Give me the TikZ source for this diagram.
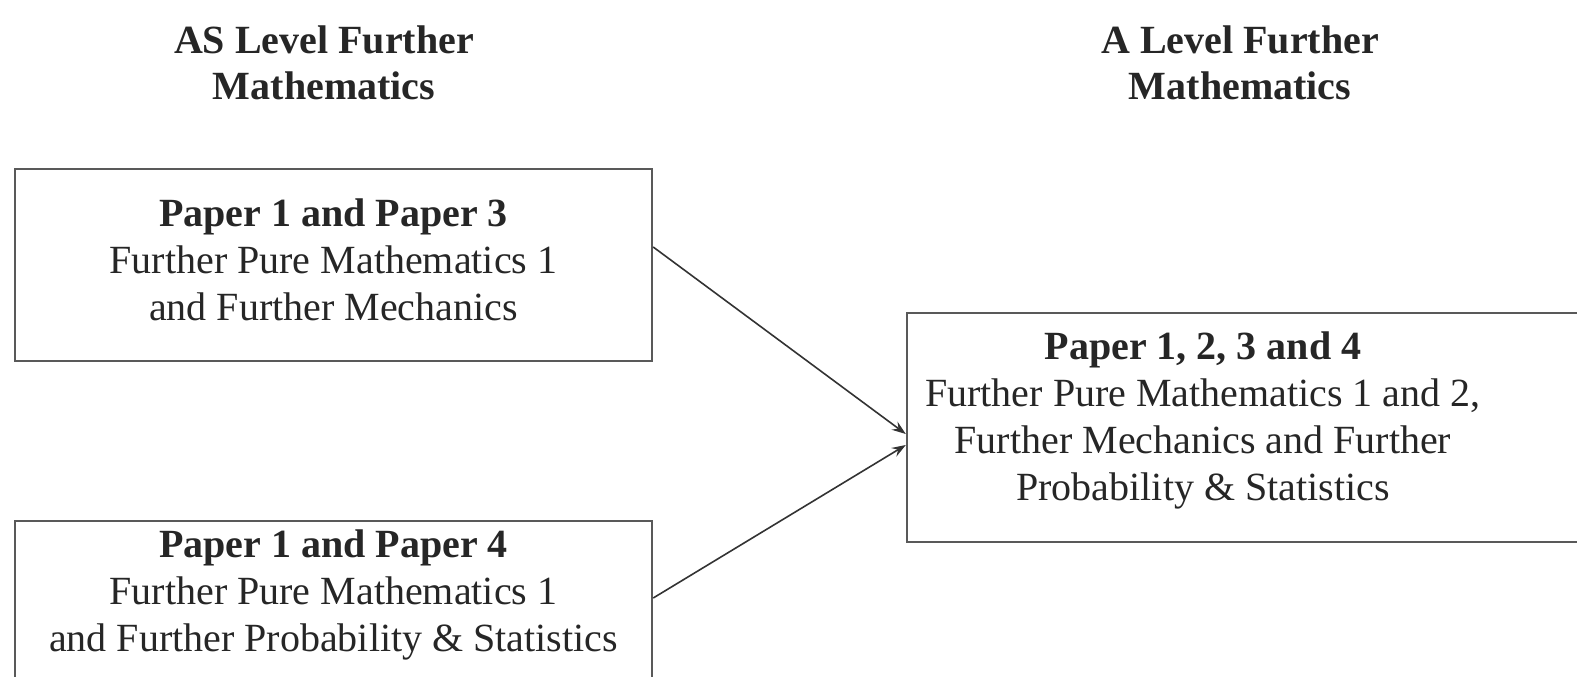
\documentclass[tikz,border=0pt]{standalone}
\usepackage{fontspec}
\setmainfont{Liberation Serif}
\usetikzlibrary{arrows.meta}
\tikzset{
  box/.style={draw=black!65, line width=1.2pt, inner sep=0pt},
  boxtext/.style={align=center, text=black!85, font=\fontsize{20}{23.5}\selectfont},
  head/.style={boxtext, font=\fontsize{20}{23}\selectfont\bfseries},
  link/.style={draw=black!80, line width=0.8pt, -{Stealth[length=7pt, width=5pt, inset=2.5pt]}},
}
\begin{document}
\begin{tikzpicture}[x=0.5pt, y=-0.5pt]
      \useasboundingbox (0,0) rectangle (1577,676);
      \clip (0,0) rectangle (1577,676);
      %
      \node[head] (asHead) at (324,63) {AS Level Further\\Mathematics};
      \node[head] (aHead) at (1240,63) {A Level Further\\Mathematics};
      %
      \node[box, minimum width=318.5pt, minimum height=96pt] (p13) at (333.5,265) {};
      \node[box, minimum width=318.5pt, minimum height=96pt] (p14) at (333.5,617) {};
      \node[box, minimum width=341.5pt, minimum height=114.5pt] (p1234) at (1248.5,427.5) {};
      %
      \node[boxtext] (p13Text) at (333.5,260) {\textbf{Paper 1 and Paper 3}\\Further Pure Mathematics 1\\and Further Mechanics};
      \node[boxtext] (p14Text) at (333.5,595) {\textbf{Paper 1 and Paper 4}\\Further Pure Mathematics 1\\and Further Probability \& Statistics};
      \node[boxtext] (p1234Text) at (1203,420) {\textbf{Paper 1, 2, 3 and 4}\\Further Pure Mathematics 1 and 2,\\Further Mechanics and Further\\Probability \& Statistics};
      %
      \draw[link] ([yshift=9pt]p13.east) -- ([yshift=-3.25pt]p1234.west);
      \draw[link] ([yshift=9.5pt]p14.east) -- ([yshift=-8.75pt]p1234.west);
      %
    \end{tikzpicture}
\end{document}
